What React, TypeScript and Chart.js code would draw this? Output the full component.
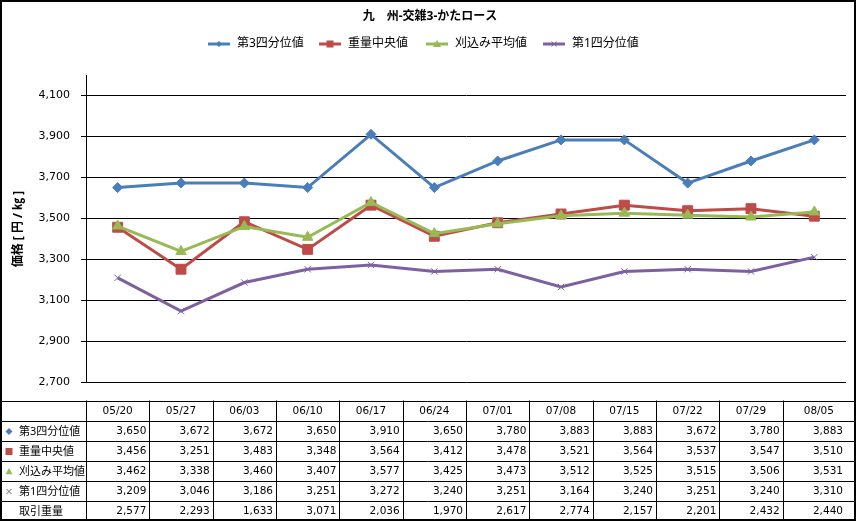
import { useEffect, useRef } from "react";
import { Chart, registerables, Plugin } from "chart.js";

Chart.register(...registerables);

const categories = ["05/20", "05/27", "06/03", "06/10", "06/17", "06/24", "07/01", "07/08", "07/15", "07/22", "07/29", "08/05"];
const q3Values = [3650, 3672, 3672, 3650, 3910, 3650, 3780, 3883, 3883, 3672, 3780, 3883];
const medianValues = [3456, 3251, 3483, 3348, 3564, 3412, 3478, 3521, 3564, 3537, 3547, 3510];
const avgValues = [3462, 3338, 3460, 3407, 3577, 3425, 3473, 3512, 3525, 3515, 3506, 3531];
const q1Values = [3209, 3046, 3186, 3251, 3272, 3240, 3251, 3164, 3240, 3251, 3240, 3310];
const volumeValues = [2577, 2293, 1633, 3071, 2036, 1970, 2617, 2774, 2157, 2201, 2432, 2440];
const yTicks = [2700, 2900, 3100, 3300, 3500, 3700, 3900, 4100];

const TITLE = "九　州-交雑3-かたロース";
const Y_TITLE = "価格 [ 円 / ㎏ ]";
const FONT = '"Noto Sans", "Noto Sans CJK JP", sans-serif';
const NUM_FONT = '"DejaVu Sans", "Noto Sans CJK JP", sans-serif';

type Series = { label: string; data: number[]; color: string; marker: string; radius: number };

const series: Series[] = [
  { label: "第3四分位値", data: q3Values, color: "#4A7EBB", marker: "diamond", radius: 4.5 },
  { label: "重量中央値", data: medianValues, color: "#BE4B48", marker: "square", radius: 5 },
  { label: "刈込み平均値", data: avgValues, color: "#98B954", marker: "triangle", radius: 5.5 },
  { label: "第1四分位値", data: q1Values, color: "#7D60A0", marker: "cross", radius: 4 },
];

function drawMarker(ctx: CanvasRenderingContext2D, kind: string, x: number, y: number, r: number, color: string) {
  ctx.save();
  ctx.fillStyle = color;
  ctx.strokeStyle = color;
  ctx.lineWidth = 1;
  ctx.beginPath();
  if (kind === "diamond") {
    ctx.moveTo(x, y - r);
    ctx.lineTo(x + r, y);
    ctx.lineTo(x, y + r);
    ctx.lineTo(x - r, y);
    ctx.closePath();
    ctx.fill();
  } else if (kind === "square") {
    ctx.rect(x - r, y - r, 2 * r, 2 * r);
    ctx.fill();
  } else if (kind === "triangle") {
    ctx.moveTo(x, y - r);
    ctx.lineTo(x + r, y + r * 0.75);
    ctx.lineTo(x - r, y + r * 0.75);
    ctx.closePath();
    ctx.fill();
  } else if (kind === "cross") {
    ctx.moveTo(x - r, y - r);
    ctx.lineTo(x + r, y + r);
    ctx.moveTo(x + r, y - r);
    ctx.lineTo(x - r, y + r);
    ctx.stroke();
  }
  ctx.restore();
}

const decorPlugin: Plugin = {
  id: "decor",
  afterDraw(chart) {
    const ctx = chart.ctx;
    const xScale = chart.scales.x;
    const W = chart.width;
    ctx.save();

    // title
    ctx.fillStyle = "#000";
    ctx.font = `bold 12px ${FONT}`;
    ctx.textAlign = "center";
    ctx.textBaseline = "middle";
    ctx.fillText(TITLE, 430, 17);

    // legend
    ctx.font = `12px ${FONT}`;
    ctx.textAlign = "left";
    const legendX = [208, 319, 426, 543];
    series.forEach((s, i) => {
      const lx = legendX[i];
      const ly = 44;
      ctx.strokeStyle = s.color;
      ctx.lineWidth = 3;
      ctx.beginPath();
      ctx.moveTo(lx, ly);
      ctx.lineTo(lx + 22, ly);
      ctx.stroke();
      drawMarker(ctx, s.marker, lx + 11, ly, s.radius - 1.5, s.color);
      ctx.fillStyle = "#000";
      ctx.fillText(s.label, lx + 29, ly);
    });

    // y title
    ctx.save();
    ctx.translate(19, 229);
    ctx.rotate(-Math.PI / 2);
    ctx.textAlign = "center";
    ctx.font = `bold 12px ${FONT}`;
    ctx.fillText(Y_TITLE, 0, 0);
    ctx.restore();

    // data table
    const top = 400.5;
    const rowH = 20;
    const right = 855;
    const step = xScale.getPixelForValue(1) - xScale.getPixelForValue(0);
    const bounds: number[] = categories.map((_, i) => xScale.getPixelForValue(i) - step / 2);
    bounds.push(right);
    ctx.strokeStyle = "#000";
    ctx.lineWidth = 1;
    ctx.beginPath();
    for (let r = 0; r <= 6; r++) {
      const y = Math.round(top + r * rowH) + 0.5;
      ctx.moveTo(0, y);
      ctx.lineTo(right, y);
    }
    bounds.forEach((b) => {
      const x = Math.round(b) + 0.5;
      ctx.moveTo(x, top);
      ctx.lineTo(x, top + 6 * rowH);
    });
    ctx.stroke();

    ctx.font = `10.5px ${NUM_FONT}`;
    ctx.fillStyle = "#000";
    ctx.textBaseline = "middle";
    ctx.textAlign = "center";
    categories.forEach((c, i) => {
      ctx.fillText(c, (bounds[i] + bounds[i + 1]) / 2, top + rowH / 2 + 1);
    });

    const rows = [
      ...series.map((s) => ({ label: s.label, data: s.data, s })),
      { label: "取引重量", data: volumeValues, s: null as Series | null },
    ];
    rows.forEach((row, r) => {
      const cy = top + (r + 1) * rowH + rowH / 2 + 1;
      if (row.s) {
        drawMarker(ctx, row.s.marker, 9, cy, row.s.marker === "cross" ? 2.5 : 3.5, row.s.color);
      }
      ctx.fillStyle = "#000";
      ctx.textAlign = "left";
      ctx.font = `11px ${FONT}`;
      ctx.fillText(row.label, 19, cy);
      ctx.textAlign = "right";
      ctx.font = `10.5px ${NUM_FONT}`;
      row.data.forEach((v, i) => {
        const rx = i === categories.length - 1 ? bounds[i] + step - 3 : bounds[i + 1] - 3;
        ctx.fillText(v.toLocaleString("en-US"), rx, cy);
      });
    });

    // outer border
    ctx.lineWidth = 2;
    ctx.strokeRect(1, 1, W - 3, chart.height - 2);
    ctx.restore();
  },
};

export default function App() {
  const canvasRef = useRef<HTMLCanvasElement>(null);
  const chartRef = useRef<Chart | null>(null);

  useEffect(() => {
    if (!canvasRef.current) return;
    chartRef.current?.destroy();

    chartRef.current = new Chart(canvasRef.current, {
      type: "line",
      data: {
        labels: categories,
        datasets: series.map((s, i) => ({
          label: s.label,
          data: s.data,
          borderColor: s.color,
          backgroundColor: s.color,
          borderWidth: 3,
          pointStyle: ({ diamond: "rectRot", square: "rect", triangle: "triangle", cross: "crossRot" } as Record<string, any>)[s.marker],
          pointRadius: s.marker === "square" ? 7 : s.radius + 0.5,
          pointBorderWidth: 1,
          pointBorderColor: s.color,
          pointBackgroundColor: s.color,
          tension: 0,
          order: 4 - i,
        })),
      },
      options: {
        animation: false,
        responsive: true,
        maintainAspectRatio: false,
        layout: { padding: { top: 75, bottom: 139, left: 0, right: 11 } },
        plugins: {
          legend: { display: false },
          title: { display: false },
          tooltip: { enabled: false },
        },
        scales: {
          x: {
            type: "category",
            offset: true,
            display: false,
          },
          y: {
            min: 2700,
            max: 4200,
            afterBuildTicks: (scale) => {
              scale.ticks = yTicks.map((v) => ({ value: v }));
            },
            afterFit: (scale) => {
              scale.width = 86;
            },
            grid: {
              color: "#000",
              lineWidth: 1,
              drawTicks: true,
              tickLength: 5,
              tickColor: "#000",
            },
            border: { display: true, color: "#000", width: 1 },
            ticks: {
              padding: 11,
              color: "#000",
              font: { family: NUM_FONT, size: 11 },
              callback: (v) => Number(v).toLocaleString("en-US"),
            },
          },
        },
      },
      plugins: [decorPlugin],
    });

    return () => {
      chartRef.current?.destroy();
    };
  }, []);

  return (
    <div style={{ position: "fixed", left: 0, top: 0, width: 857, height: 521, background: "#fff" }}>
      <canvas ref={canvasRef} />
    </div>
  );
}
